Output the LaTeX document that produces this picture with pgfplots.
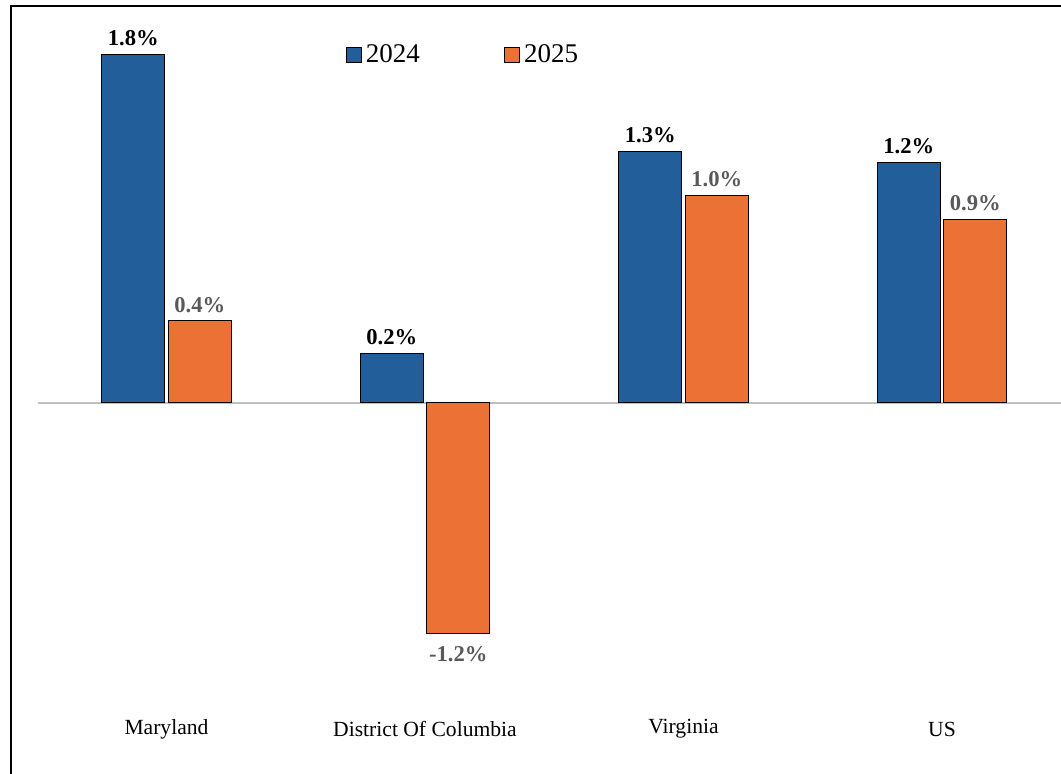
\documentclass[border=0pt]{standalone}
\usepackage{pgfplots}
\pgfplotsset{compat=1.18}
\usepackage{fontspec}
\setmainfont{Liberation Serif}
\definecolor{cblue}{RGB}{33,94,154}
\definecolor{corange}{RGB}{235,114,52}
\definecolor{lblgray}{RGB}{89,89,89}
\definecolor{zerogray}{RGB}{191,191,191}
\begin{document}
\begin{tikzpicture}
\begin{axis}[
  scale only axis,
  width=525pt, height=384pt,
  xmin=-0.6015, xmax=3.4603,
  ymin=-1.9173, ymax=2.0517,
  axis line style={draw=none},
  ytick=\empty,
  xtick={0,1,2,3},
  xticklabels={Maryland,District Of Columbia,Virginia,US},
  major tick length=0pt,
  xticklabel style={anchor=center, yshift=22.5pt, font=\fontsize{10.8}{13}\selectfont},
  ybar=1.75pt,
  bar width=31.5pt,
  point meta=explicit symbolic,
  visualization depends on={y \as \rawy},
  nodes near coords,
  nodes near coords align={},
  every node near coord/.append style={
    /utils/exec={\pgfmathparse{\rawy<0 ? 1 : 0}%
      \ifdim\pgfmathresult pt>0.5pt \def\myanchor{north}\def\myshift{-2.5pt}%
      \else \def\myanchor{south}\def\myshift{0pt}\fi},
    anchor=\myanchor, yshift=\myshift,
    inner sep=4pt, font=\fontsize{11.3}{13}\selectfont\bfseries},
  legend columns=2,
  legend style={draw=none, fill=none, at={(rel axis cs:0.3188,0.9362)}, anchor=west,
    inner sep=0pt, outer sep=0pt, font=\fontsize{13.5}{15}\selectfont,
    /tikz/every even column/.append style={column sep=40pt}},
  legend cell align=left,
  legend image code/.code={\draw[#1, draw=black, line width=0.6pt] (0pt,-3.75pt) rectangle (7.5pt,3.75pt);},
  clip=false,
]
\draw[zerogray, line width=0.8pt] (axis cs:-0.497,0) -- (axis cs:3.4603,0);
\addplot[fill=cblue, draw=black, line width=0.5pt, every node near coord/.append style={text=black}]
  coordinates {(0,1.80) [1.8\%] (1,0.258) [0.2\%] (2,1.30) [1.3\%] (3,1.242) [1.2\%]};
\addplot[fill=corange, draw=black, line width=0.5pt, every node near coord/.append style={text=lblgray}]
  coordinates {(0,0.424) [0.4\%] (1,-1.19) [-1.2\%] (2,1.073) [1.0\%] (3,0.949) [0.9\%]};
\legend{2024,2025}
\draw[black, line width=1pt] (rel axis cs:0,0) -- (rel axis cs:0,1) -- (rel axis cs:1,1);
\end{axis}
\pgfresetboundingbox
\path ([xshift=-5.5pt]current axis.south west) rectangle ([yshift=3pt]current axis.north east);
\end{tikzpicture}
\end{document}
